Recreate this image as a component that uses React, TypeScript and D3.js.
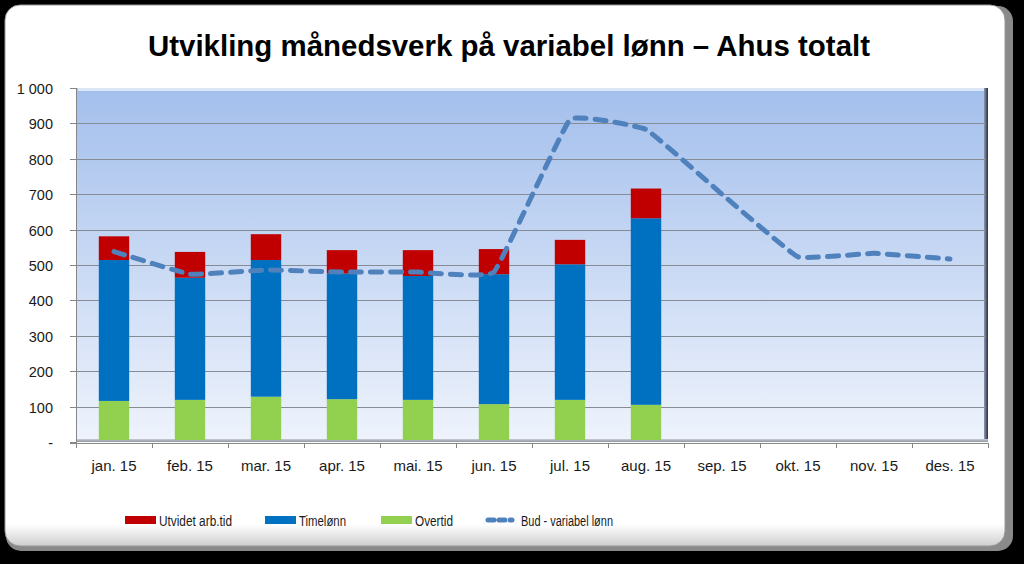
import React, { useEffect, useRef } from 'react';
import * as d3 from 'd3';

const months = ['jan. 15', 'feb. 15', 'mar. 15', 'apr. 15', 'mai. 15', 'jun. 15', 'jul. 15', 'aug. 15', 'sep. 15', 'okt. 15', 'nov. 15', 'des. 15'];
const overtid = [116, 119, 128, 121, 119, 107, 119, 105];
const timelonn = [398, 345, 386, 355, 350, 367, 383, 527];
const utvidet = [67, 73, 73, 66, 73, 71, 69, 84];
const bud = [538, 474, 486, 480, 480, 480, 911, 883, 700, 523, 533, 517];
const yTicks = [0, 100, 200, 300, 400, 500, 600, 700, 800, 900, 1000];

const seriesNames = ['Overtid', 'Timelønn', 'Utvidet arb.tid'];
const seriesColors = ['#92d050', '#0070c0', '#c00000'];
const lineColor = '#4f81bd';

const W = 1024;
const H = 564;

export default function App() {
  const svgRef = useRef<SVGSVGElement>(null);

  useEffect(() => {
    const svg = d3.select(svgRef.current);
    svg.selectAll('*').remove();

    const margin = { top: 88, right: 36, bottom: 122, left: 76 };
    const innerWidth = W - margin.left - margin.right;
    const innerHeight = H - margin.top - margin.bottom;

    const defs = svg.append('defs');
    const bgGrad = defs.append('linearGradient').attr('id', 'plotbg').attr('x1', 0).attr('y1', 0).attr('x2', 0).attr('y2', 1);
    bgGrad.append('stop').attr('offset', '0%').attr('stop-color', '#a3bfec');
    bgGrad.append('stop').attr('offset', '100%').attr('stop-color', '#eef3fc');
    const shadowGrad = defs.append('linearGradient').attr('id', 'rshadow').attr('x1', 0).attr('y1', 0).attr('x2', 1).attr('y2', 0);
    shadowGrad.append('stop').attr('offset', '0%').attr('stop-color', '#8d9bb3');
    shadowGrad.append('stop').attr('offset', '100%').attr('stop-color', '#2a3140');
    const floorGrad = defs.append('linearGradient').attr('id', 'floor').attr('x1', 0).attr('y1', 0).attr('x2', 0).attr('y2', 1);
    floorGrad.append('stop').attr('offset', '0%').attr('stop-color', '#c9ced8');
    floorGrad.append('stop').attr('offset', '100%').attr('stop-color', '#8e939c');
    const panelEdge = defs.append('linearGradient').attr('id', 'pedge').attr('x1', 0).attr('y1', 0).attr('x2', 0).attr('y2', 1);
    panelEdge.append('stop').attr('offset', '0%').attr('stop-color', '#ffffff');
    panelEdge.append('stop').attr('offset', '96%').attr('stop-color', '#ffffff');
    panelEdge.append('stop').attr('offset', '100%').attr('stop-color', '#cfcfcf');

    // black background + white panel
    svg.append('rect').attr('width', W).attr('height', H).attr('fill', '#000');
    svg.append('rect').attr('x', 6).attr('y', 6).attr('width', 1007).attr('height', 545).attr('rx', 15)
      .attr('fill', '#8a8a8a');
    svg.append('rect').attr('x', 5).attr('y', 5).attr('width', 1000).attr('height', 541).attr('rx', 15)
      .attr('fill', 'url(#pedge)').attr('stroke', '#9a9a9a').attr('stroke-width', 1);

    svg.append('text')
      .attr('x', 509).attr('y', 56)
      .attr('text-anchor', 'middle')
      .attr('font-family', '"Liberation Sans", Arial, sans-serif')
      .attr('font-weight', 'bold').attr('font-size', 29)
      .attr('textLength', 722).attr('lengthAdjust', 'spacingAndGlyphs')
      .text('Utvikling månedsverk på variabel lønn – Ahus totalt');

    const g = svg.append('g').attr('transform', `translate(${margin.left},${margin.top})`);

    const x = d3.scaleBand().domain(months).range([0, innerWidth]).paddingInner(0.6).paddingOuter(0.3);
    const xTick = d3.scaleBand().domain(months).range([0, innerWidth]);
    const y = d3.scaleLinear().domain([0, 1000]).range([innerHeight, 0]);

    // plot background (3D look)
    g.append('rect').attr('x', 0).attr('y', 0).attr('width', innerWidth).attr('height', innerHeight - 3)
      .attr('fill', 'url(#plotbg)');
    g.append('rect').attr('x', innerWidth - 4).attr('y', 0).attr('width', 4).attr('height', innerHeight - 3)
      .attr('fill', 'url(#rshadow)');
    g.append('line').attr('x1', 2).attr('x2', innerWidth - 4).attr('y1', 1.5).attr('y2', 1.5)
      .attr('stroke', '#dbe6f8').attr('stroke-width', 3);
    g.append('rect').attr('x', 0).attr('y', innerHeight - 3).attr('width', innerWidth).attr('height', 3)
      .attr('fill', 'url(#floor)');

    // gridlines
    g.append('g').selectAll('line')
      .data(yTicks.filter(d => d > 0 && d < 1000))
      .enter().append('line')
      .attr('x1', 0).attr('x2', innerWidth - 2)
      .attr('y1', d => Math.round(y(d)) + 0.5).attr('y2', d => Math.round(y(d)) + 0.5)
      .attr('stroke', '#878b93').attr('stroke-width', 1);

    // stacked bars
    const rows = overtid.map((v, i) => ({ month: months[i], Overtid: v, 'Timelønn': timelonn[i], 'Utvidet arb.tid': utvidet[i] }));
    const stack = d3.stack<any>().keys(seriesNames)(rows);
    g.append('g').selectAll('g')
      .data(stack)
      .enter().append('g')
      .attr('fill', (d, i) => seriesColors[i])
      .selectAll('rect')
      .data(d => d)
      .enter().append('rect')
      .attr('x', d => x(d.data.month)!)
      .attr('width', x.bandwidth())
      .attr('y', d => y(d[1]))
      .attr('height', d => Math.max(0, y(d[0]) - y(d[1]) - (d[0] === 0 ? 2 : 0)));

    // budget line
    const line = d3.line<number>()
      .x((d, i) => x(months[i])! + x.bandwidth() / 2)
      .y(d => y(d))
      .curve(d3.curveCardinal.tension(0.75));
    g.append('path').datum(bud)
      .attr('d', line)
      .attr('fill', 'none')
      .attr('stroke', lineColor)
      .attr('stroke-width', 5)
      .attr('stroke-linecap', 'round')
      .attr('stroke-dasharray', '11 9');

    const tickFont = '"Liberation Sans", Arial, sans-serif';

    // y axis
    const yAxis = g.append('g');
    yAxis.append('line').attr('x1', 0.5).attr('x2', 0.5).attr('y1', 0).attr('y2', innerHeight + 2)
      .attr('stroke', '#868686');
    yTicks.forEach(t => {
      const yy = Math.round(y(t)) + 0.5;
      yAxis.append('line').attr('x1', -6).attr('x2', 0).attr('y1', yy).attr('y2', yy).attr('stroke', '#868686');
      yAxis.append('text')
        .attr('x', -23).attr('y', yy).attr('dy', '0.35em')
        .attr('text-anchor', 'end')
        .attr('font-family', tickFont).attr('font-size', 14.5).attr('fill', '#1a1a1a')
        .text(t === 0 ? '-' : d3.format(',')(t).replace(',', ' '));
    });

    // x axis
    const xAxis = g.append('g').attr('transform', `translate(0,${innerHeight + 1})`);
    xAxis.append('line').attr('x1', -6).attr('x2', innerWidth).attr('y1', 0.5).attr('y2', 0.5).attr('stroke', '#868686');
    months.concat(['']).forEach((m, i) => {
      const xx = Math.round(i * xTick.step()) + 0.5;
      xAxis.append('line').attr('x1', xx).attr('x2', xx).attr('y1', 0).attr('y2', 5).attr('stroke', '#868686');
    });
    xAxis.selectAll('text.lbl')
      .data(months)
      .enter().append('text')
      .attr('class', 'lbl')
      .attr('x', d => xTick(d)! + xTick.bandwidth() / 2)
      .attr('y', 28)
      .attr('text-anchor', 'middle')
      .attr('font-family', tickFont).attr('font-size', 15).attr('fill', '#1a1a1a')
      .text(d => d);

    // legend
    const legend = svg.append('g').attr('transform', 'translate(0,520)');
    const items = [
      { name: 'Utvidet arb.tid', color: seriesColors[2], x: 125, width: 73 },
      { name: 'Timelønn', color: seriesColors[1], x: 265, width: 47 },
      { name: 'Overtid', color: seriesColors[0], x: 381, width: 38 },
    ];
    items.forEach(it => {
      legend.append('rect').attr('x', it.x).attr('y', -4).attr('width', 31).attr('height', 8).attr('fill', it.color);
      legend.append('text').attr('x', it.x + 34).attr('y', 0).attr('dy', '0.36em')
        .attr('font-family', tickFont).attr('font-size', 15.5).attr('fill', '#1a1a1a')
        .attr('textLength', it.width).attr('lengthAdjust', 'spacingAndGlyphs')
        .text(it.name);
    });
    legend.append('line').attr('x1', 488).attr('x2', 512).attr('y1', 0).attr('y2', 0)
      .attr('stroke', lineColor).attr('stroke-width', 5).attr('stroke-linecap', 'round').attr('stroke-dasharray', '6 5');
    legend.append('text').attr('x', 521).attr('y', 0).attr('dy', '0.36em')
      .attr('font-family', tickFont).attr('font-size', 15.5).attr('fill', '#1a1a1a')
      .attr('textLength', 92).attr('lengthAdjust', 'spacingAndGlyphs')
      .text('Bud - variabel lønn');
  }, []);

  return (
    <svg ref={svgRef} width={W} height={H} style={{ position: 'absolute', left: 0, top: 0, display: 'block' }} />
  );
}
